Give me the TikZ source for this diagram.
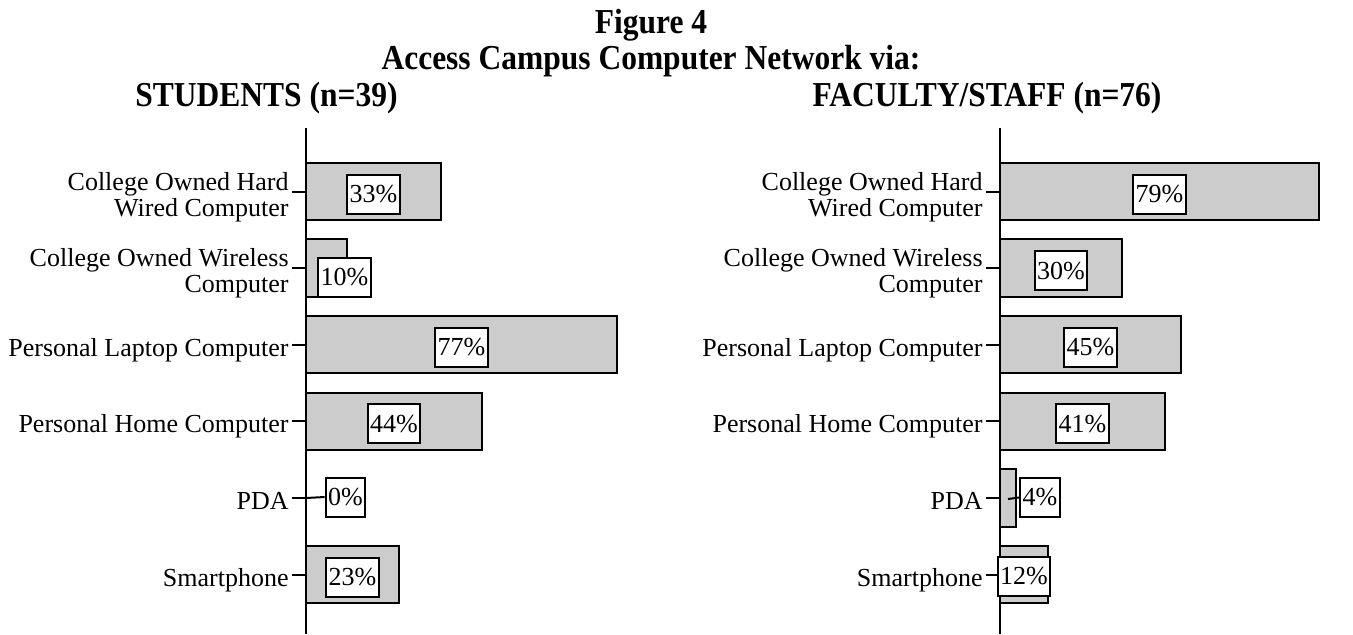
\documentclass[tikz,border=0pt]{standalone}
\usepackage{fontspec}
\setmainfont{Liberation Serif}
\newfontfamily\headfont{Liberation Serif}[FakeStretch=0.9]
\usetikzlibrary{positioning}
\tikzset{
  bar/.style={draw=black, fill=black!20, line width=1pt},
  pct/.style={draw=black, fill=white, line width=1pt, inner xsep=1.3pt, inner ysep=0pt,
    minimum height=19.5pt, font=\fontsize{13}{13}\selectfont},
  cat/.style={anchor=east, align=right, inner sep=0pt, font=\fontsize{13}{13}\selectfont},
  head/.style={anchor=base, inner sep=0pt, font=\headfont\fontsize{17.5}{20}\selectfont\bfseries},
  axisline/.style={line width=0.75pt},
  ticklink/.style={line width=1pt}
}
\begin{document}
\begin{tikzpicture}[x=0.5pt, y=-0.5pt]
 \useasboundingbox (0,0) rectangle (1353,634);
 % titles
 \node[head] (fig) at (651,33) {Figure 4};
 \node[head] (title) at (651,69) {Access Campus Computer Network via:};
 \node[head] (stud) at (266.5,106) {STUDENTS (n=39)};
 \node[head] (fac) at (987,106) {FACULTY/STAFF (n=76)};

 % students
 \draw[axisline] (306,128) -- (306,634);
 \draw[bar] (306,163) rectangle (441,220);
 \draw[bar] (306,239) rectangle (347,297);
 \draw[bar] (306,316) rectangle (617,373);
 \draw[bar] (306,393) rectangle (482,450);
 \draw[bar] (306,469) rectangle (306,527);
 \draw[bar] (306,546) rectangle (399,603);
 \draw[ticklink] (292,191.5) -- (306,191.5);
 \draw[ticklink] (292,268.1) -- (306,268.1);
 \draw[ticklink] (292,344.7) -- (306,344.7);
 \draw[ticklink] (292,421.3) -- (306,421.3);
 \draw[ticklink] (292,497.9) -- (306,497.9);
 \draw[ticklink] (292,574.5) -- (306,574.5);
 \node[cat] (s1) at (289,197) {College Owned Hard\\Wired Computer};
 \node[cat] (s2) at (289,273.5) {College Owned Wireless\\Computer};
 \node[cat] (s3) at (289,350) {Personal Laptop Computer};
 \node[cat] (s4) at (289,426.5) {Personal Home Computer};
 \node[cat] (s5) at (289,501) {PDA};
 \node[cat] (s6) at (289,580) {Smartphone};
 \node[pct] (sp1) at (373.5,194) {33\%};
 \node[pct] (sp2) at (344.5,277) {10\%};
 \node[pct] (sp3) at (461.5,347.2) {77\%};
 \node[pct] (sp4) at (394,423.8) {44\%};
 \node[pct] (sp5) at (345.5,497) {0\%};
 \node[pct] (sp6) at (352.5,577) {23\%};
 \draw[ticklink] (306,498) -- (sp5.west);

 % faculty/staff
 \draw[axisline] (1000,128) -- (1000,634);
 \draw[bar] (1000,163) rectangle (1319,220);
 \draw[bar] (1000,239) rectangle (1122,297);
 \draw[bar] (1000,316) rectangle (1181,373);
 \draw[bar] (1000,393) rectangle (1165,450);
 \draw[bar] (1000,469) rectangle (1016,527);
 \draw[bar] (1000,546) rectangle (1048,603);
 \draw[ticklink] (986,191.5) -- (1000,191.5);
 \draw[ticklink] (986,268.1) -- (1000,268.1);
 \draw[ticklink] (986,344.7) -- (1000,344.7);
 \draw[ticklink] (986,421.3) -- (1000,421.3);
 \draw[ticklink] (986,497.9) -- (1000,497.9);
 \draw[ticklink] (986,574.5) -- (1000,574.5);
 \node[cat] (f1) at (983,197) {College Owned Hard\\Wired Computer};
 \node[cat] (f2) at (983,273.5) {College Owned Wireless\\Computer};
 \node[cat] (f3) at (983,350) {Personal Laptop Computer};
 \node[cat] (f4) at (983,426.5) {Personal Home Computer};
 \node[cat] (f5) at (983,501) {PDA};
 \node[cat] (f6) at (983,580) {Smartphone};
 \node[pct] (fp1) at (1159.5,194) {79\%};
 \node[pct] (fp2) at (1061,270.6) {30\%};
 \node[pct] (fp3) at (1090.5,347.2) {45\%};
 \node[pct] (fp4) at (1082.5,423.8) {41\%};
 \node[pct] (fp5) at (1040,497.5) {4\%};
 \node[pct] (fp6) at (1024,576) {12\%};
 \draw[ticklink] (1008,499) -- (fp5.west);
\end{tikzpicture}
\end{document}
